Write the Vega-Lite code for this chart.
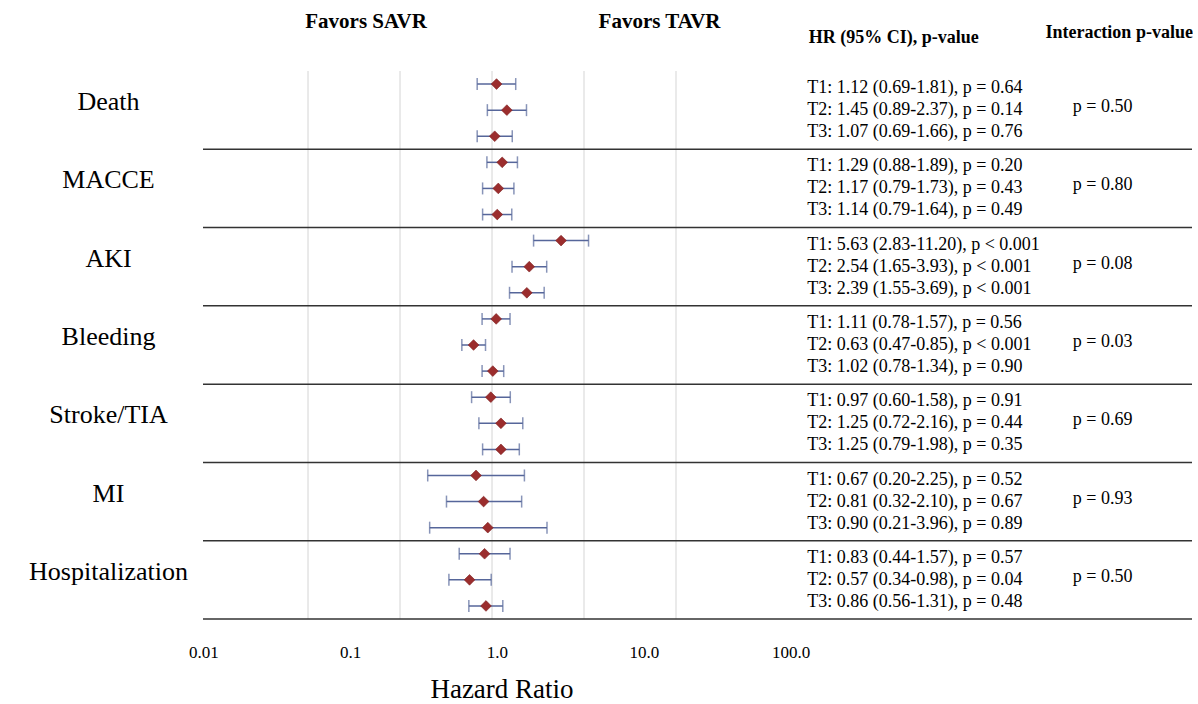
{
  "$schema": "https://vega.github.io/schema/vega-lite/v6.json",
  "padding": {"left": 28, "top": 10, "right": 0, "bottom": 0},
  "background": "white",
  "config": {
    "view": {"stroke": null},
    "font": "Liberation Serif",
    "axisY": {"labelFont": "Liberation Serif", "labelFontSize": 26, "labelColor": "#000000", "labelBaseline": "alphabetic", "labelAlign": "center", "labelPadding": 95, "ticks": false, "domain": false, "grid": false, "labelLimit": 0}
  },
  "datasets": {
    "rows": [
      {"group": "Death", "tier": "T1", "hr": 1.12, "lo": 0.69, "hi": 1.81, "label": "T1: 1.12 (0.69-1.81), p = 0.64"},
      {"group": "Death", "tier": "T2", "hr": 1.45, "lo": 0.89, "hi": 2.37, "label": "T2: 1.45 (0.89-2.37), p = 0.14"},
      {"group": "Death", "tier": "T3", "hr": 1.07, "lo": 0.69, "hi": 1.66, "label": "T3: 1.07 (0.69-1.66), p = 0.76"},
      {"group": "MACCE", "tier": "T1", "hr": 1.29, "lo": 0.88, "hi": 1.89, "label": "T1: 1.29 (0.88-1.89), p = 0.20"},
      {"group": "MACCE", "tier": "T2", "hr": 1.17, "lo": 0.79, "hi": 1.73, "label": "T2: 1.17 (0.79-1.73), p = 0.43"},
      {"group": "MACCE", "tier": "T3", "hr": 1.14, "lo": 0.79, "hi": 1.64, "label": "T3: 1.14 (0.79-1.64), p = 0.49"},
      {"group": "AKI", "tier": "T1", "hr": 5.63, "lo": 2.83, "hi": 11.2, "label": "T1: 5.63 (2.83-11.20), p < 0.001"},
      {"group": "AKI", "tier": "T2", "hr": 2.54, "lo": 1.65, "hi": 3.93, "label": "T2: 2.54 (1.65-3.93), p < 0.001"},
      {"group": "AKI", "tier": "T3", "hr": 2.39, "lo": 1.55, "hi": 3.69, "label": "T3: 2.39 (1.55-3.69), p < 0.001"},
      {"group": "Bleeding", "tier": "T1", "hr": 1.11, "lo": 0.78, "hi": 1.57, "label": "T1: 1.11 (0.78-1.57), p = 0.56"},
      {"group": "Bleeding", "tier": "T2", "hr": 0.63, "lo": 0.47, "hi": 0.85, "label": "T2: 0.63 (0.47-0.85), p < 0.001"},
      {"group": "Bleeding", "tier": "T3", "hr": 1.02, "lo": 0.78, "hi": 1.34, "label": "T3: 1.02 (0.78-1.34), p = 0.90"},
      {"group": "Stroke/TIA", "tier": "T1", "hr": 0.97, "lo": 0.60, "hi": 1.58, "label": "T1: 0.97 (0.60-1.58), p = 0.91"},
      {"group": "Stroke/TIA", "tier": "T2", "hr": 1.25, "lo": 0.72, "hi": 2.16, "label": "T2: 1.25 (0.72-2.16), p = 0.44"},
      {"group": "Stroke/TIA", "tier": "T3", "hr": 1.25, "lo": 0.79, "hi": 1.98, "label": "T3: 1.25 (0.79-1.98), p = 0.35"},
      {"group": "MI", "tier": "T1", "hr": 0.67, "lo": 0.20, "hi": 2.25, "label": "T1: 0.67 (0.20-2.25), p = 0.52"},
      {"group": "MI", "tier": "T2", "hr": 0.81, "lo": 0.32, "hi": 2.10, "label": "T2: 0.81 (0.32-2.10), p = 0.67"},
      {"group": "MI", "tier": "T3", "hr": 0.90, "lo": 0.21, "hi": 3.96, "label": "T3: 0.90 (0.21-3.96), p = 0.89"},
      {"group": "Hospitalization", "tier": "T1", "hr": 0.83, "lo": 0.44, "hi": 1.57, "label": "T1: 0.83 (0.44-1.57), p = 0.57"},
      {"group": "Hospitalization", "tier": "T2", "hr": 0.57, "lo": 0.34, "hi": 0.98, "label": "T2: 0.57 (0.34-0.98), p = 0.04"},
      {"group": "Hospitalization", "tier": "T3", "hr": 0.86, "lo": 0.56, "hi": 1.31, "label": "T3: 0.86 (0.56-1.31), p = 0.48"}
    ],
    "inter": [
      {"group": "Death", "p": "p = 0.50"},
      {"group": "MACCE", "p": "p = 0.80"},
      {"group": "AKI", "p": "p = 0.08"},
      {"group": "Bleeding", "p": "p = 0.03"},
      {"group": "Stroke/TIA", "p": "p = 0.69"},
      {"group": "MI", "p": "p = 0.93"},
      {"group": "Hospitalization", "p": "p = 0.50"}
    ],
    "decades": [{"v": 0.01}, {"v": 0.1}, {"v": 1}, {"v": 10}, {"v": 100}],
    "seps": [{"group": "MACCE"}, {"group": "AKI"}, {"group": "Bleeding"}, {"group": "Stroke/TIA"}, {"group": "MI"}, {"group": "Hospitalization"}],
    "last": [{"group": "Hospitalization"}]
  },
  "bounds": "flush",
  "spacing": 0,
  "resolve": {"scale": {"x": "independent", "y": "independent", "yOffset": "independent"}},
  "hconcat": [
    {
      "width": 597,
      "height": 548,
      "layer": [
        {
          "layer": [
            {
              "data": {"name": "decades"},
              "mark": {"type": "rule", "color": "#e3e3e3", "strokeWidth": 1.5},
              "encoding": {
                "x": {
                  "field": "v", "type": "quantitative",
                  "scale": {"type": "log", "domain": [0.000722, 2227], "nice": false},
                  "axis": {"orient": "top", "values": [0.0422, 65.4], "labelExpr": "datum.value < 1 ? 'Favors SAVR' : 'Favors TAVR'", "grid": false, "ticks": false, "domain": false, "labelFont": "Liberation Serif", "labelFontSize": 21, "labelFontWeight": "bold", "labelColor": "#000000", "labelBaseline": "alphabetic", "labelPadding": 44, "labelOverlap": false, "labelFlush": false, "labelLimit": 0, "title": null}
                }
              }
            },
            {
              "mark": {"type": "rule", "color": "#8e94a8", "strokeWidth": 1},
              "encoding": {"x": {"datum": 1, "type": "quantitative"}}
            },
            {
              "data": {"name": "seps"},
              "mark": {"type": "rule", "color": "#333333", "strokeWidth": 1.5},
              "encoding": {
                "y": {"field": "group", "type": "nominal", "bandPosition": 0, "scale": {"domain": ["Death", "MACCE", "AKI", "Bleeding", "Stroke/TIA", "MI", "Hospitalization"], "paddingInner": 0, "paddingOuter": 0}, "title": null}
              }
            },
            {
              "data": {"name": "last"},
              "mark": {"type": "rule", "color": "#333333", "strokeWidth": 1.5},
              "encoding": {
                "y": {"field": "group", "type": "nominal", "bandPosition": 1, "title": null}
              }
            },
            {
              "data": {"name": "rows"},
              "mark": {"type": "rule", "color": "#56669a", "strokeWidth": 1.5},
              "encoding": {
                "x": {"field": "lo", "type": "quantitative", "title": null},
                "x2": {"field": "hi"},
                "y": {"field": "group", "type": "nominal", "title": null},
                "yOffset": {"field": "tier", "type": "nominal", "scale": {"domain": ["T1", "T2", "T3"], "paddingInner": 0, "paddingOuter": 0}}
              }
            },
            {
              "data": {"name": "rows"},
              "mark": {"type": "tick", "color": "#56669a", "thickness": 1.5, "size": 12},
              "encoding": {
                "x": {"field": "lo", "type": "quantitative", "title": null},
                "y": {"field": "group", "type": "nominal", "title": null},
                "yOffset": {"field": "tier", "type": "nominal"}
              }
            },
            {
              "data": {"name": "rows"},
              "mark": {"type": "tick", "color": "#56669a", "thickness": 1.5, "size": 12},
              "encoding": {
                "x": {"field": "hi", "type": "quantitative", "title": null},
                "y": {"field": "group", "type": "nominal", "title": null},
                "yOffset": {"field": "tier", "type": "nominal"}
              }
            },
            {
              "data": {"name": "rows"},
              "mark": {"type": "point", "shape": "diamond", "filled": true, "fill": "#9b2d2d", "stroke": "#7e2020", "strokeWidth": 0.6, "size": 115, "opacity": 1},
              "encoding": {
                "x": {"field": "hr", "type": "quantitative", "title": null},
                "y": {"field": "group", "type": "nominal", "title": null},
                "yOffset": {"field": "tier", "type": "nominal"}
              }
            }
          ]
        },
        {
          "data": {"name": "decades"},
          "mark": {"type": "point", "opacity": 0},
          "encoding": {
            "x": {
              "field": "v", "type": "quantitative",
              "scale": {"type": "log", "domain": [0.00995, 115.9], "nice": false},
              "axis": {"orient": "bottom", "values": [0.01, 0.1, 1, 10, 100], "labelExpr": "datum.value < 0.05 ? '0.01' : format(datum.value, '.1f')", "grid": false, "ticks": false, "domain": false, "labelFont": "Liberation Serif", "labelFontSize": 17, "labelColor": "#000000", "labelBaseline": "alphabetic", "labelPadding": 38, "labelOverlap": false, "labelFlush": false, "labelBound": false, "title": "Hazard Ratio", "titleFont": "Liberation Serif", "titleFontSize": 27, "titleFontWeight": "normal", "titleColor": "#000000", "titlePadding": 16}
            }
          }
        }
      ],
      "resolve": {"scale": {"x": "independent"}}
    },
    {
      "width": 392,
      "height": 548,
      "layer": [
        {
          "data": {"name": "seps"},
          "mark": {"type": "rule", "color": "#333333", "strokeWidth": 1.5},
          "encoding": {
            "y": {"field": "group", "type": "nominal", "bandPosition": 0, "scale": {"domain": ["Death", "MACCE", "AKI", "Bleeding", "Stroke/TIA", "MI", "Hospitalization"], "paddingInner": 0, "paddingOuter": 0}, "axis": null}
          }
        },
        {
          "data": {"name": "last"},
          "mark": {"type": "rule", "color": "#333333", "strokeWidth": 1.5},
          "encoding": {
            "y": {"field": "group", "type": "nominal", "bandPosition": 1, "axis": null}
          }
        },
        {
          "data": {"name": "rows"},
          "mark": {"type": "text", "align": "left", "baseline": "middle", "fontSize": 18, "font": "Liberation Serif", "color": "#000000", "dx": -76},
          "encoding": {
            "x": {
              "datum": "HR (95% CI), p-value", "type": "nominal",
              "scale": {"type": "point", "domain": ["HR (95% CI), p-value", "Interaction p-value"], "padding": 0.37},
              "axis": {"orient": "top", "ticks": false, "domain": false, "grid": false, "labelAngle": 0, "labelFont": "Liberation Serif", "labelFontSize": 18, "labelFontWeight": "bold", "labelColor": "#000000", "labelBaseline": "alphabetic", "labelOffset": 10, "labelPadding": {"condition": {"test": "datum.value == 'Interaction p-value'", "value": 34}, "value": 29}, "labelLimit": 0, "labelOverlap": false, "title": null}
            },
            "y": {"field": "group", "type": "nominal", "axis": null},
            "yOffset": {"field": "tier", "type": "nominal", "scale": {"type": "point", "domain": ["T1", "T2", "T3"], "padding": 0.78}},
            "text": {"field": "label"}
          }
        },
        {
          "data": {"name": "inter"},
          "mark": {"type": "text", "align": "center", "baseline": "middle", "fontSize": 18, "font": "Liberation Serif", "color": "#000000", "dx": -6, "dy": -3},
          "encoding": {
            "x": {"datum": "Interaction p-value", "type": "nominal"},
            "y": {"field": "group", "type": "nominal", "axis": null},
            "text": {"field": "p"}
          }
        }
      ]
    }
  ]
}
